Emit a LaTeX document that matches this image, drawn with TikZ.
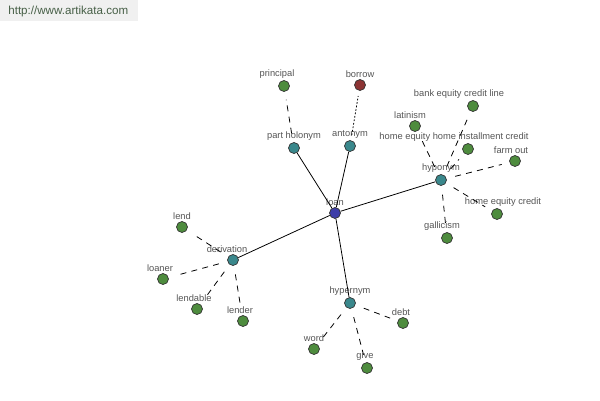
\documentclass[tikz,border=0pt]{standalone}
\usepackage{fontspec}
\setmainfont{Liberation Sans}
\definecolor{leaf}{RGB}{78,140,62}
\definecolor{rel}{RGB}{58,136,140}
\definecolor{root}{RGB}{62,62,168}
\definecolor{anto}{RGB}{140,52,52}
\definecolor{lblgray}{RGB}{85,85,85}
\definecolor{wmark}{RGB}{240,240,240}
\definecolor{wtext}{RGB}{70,95,70}
\tikzset{
  wnode/.style={circle,draw=black!80,line width=0.4pt,inner sep=0pt,minimum size=0.22cm},
  leafnode/.style={wnode,fill=leaf},
  relnode/.style={wnode,fill=rel},
  lbl/.style={font=\fontsize{5.3}{6}\selectfont,text=lblgray,inner sep=0.8pt},
  link/.style={line width=0.45pt},
  sublink/.style={line width=0.45pt,dash pattern=on 3.4pt off 3pt,shorten <=5pt,shorten >=4.5pt},
}
\begin{document}
\begin{tikzpicture}[x=0.02cm,y=-0.02cm]
\useasboundingbox (0,0) rectangle (600,400);
\fill [wmark] (0,0) rectangle (138,21);
\node [font=\fontsize{6.6}{8}\selectfont,text=wtext,anchor=west,inner sep=0pt] (site) at (8,11) {http://www.artikata.com};
% center and relation nodes
\node [wnode,fill=root,label={[lbl]above:loan}] (loan) at (335,213) {};
\node [relnode,label={[lbl]above:part holonym}] (holo) at (294,148) {};
\node [relnode,label={[lbl]above:antonym}] (anton) at (350,146) {};
\node [relnode,label={[lbl]above:hyponym}] (hypo) at (441,180) {};
\node [relnode,label={[lbl,xshift=-0.12cm]above:derivation}] (deriv) at (233,260) {};
\node [relnode,label={[lbl]above:hypernym}] (hyper) at (350,303) {};
% leaves
\node [leafnode,label={[lbl,xshift=-0.14cm]above:principal}] (princ) at (284,86) {};
\node [wnode,fill=anto,label={[lbl]above:borrow}] (borrow) at (360,85) {};
\node [leafnode,label={[lbl,xshift=-0.1cm]above:latinism}] (latin) at (415,126) {};
\node [leafnode,label={[lbl,xshift=-0.28cm]above:bank equity credit line}] (bank) at (473,106) {};
\node [leafnode,label={[lbl,xshift=-0.28cm]above:home equity home installment credit}] (install) at (468,149) {};
\node [leafnode,label={[lbl,xshift=-0.08cm]above:farm out}] (farm) at (515,161) {};
\node [leafnode,label={[lbl,xshift=0.12cm]above:home equity credit}] (homeeq) at (497,214) {};
\node [leafnode,label={[lbl,xshift=-0.1cm]above:gallicism}] (gallic) at (447,238) {};
\node [leafnode,label={[lbl]above:lend}] (lend) at (182,227) {};
\node [leafnode,label={[lbl,xshift=-0.06cm]above:loaner}] (loaner) at (163,279) {};
\node [leafnode,label={[lbl,xshift=-0.06cm]above:lendable}] (lendable) at (197,309) {};
\node [leafnode,label={[lbl,xshift=-0.06cm]above:lender}] (lender) at (243,321) {};
\node [leafnode,label={[lbl,xshift=-0.04cm]above:debt}] (debt) at (403,323) {};
\node [leafnode,label={[lbl]above:word}] (word) at (314,349) {};
\node [leafnode,label={[lbl,xshift=-0.04cm]above:give}] (give) at (367,368) {};
% links
\foreach \r in {holo,anton,hypo,deriv,hyper}
  \draw [link] (loan) -- (\r);
\draw [sublink] (holo) -- (princ);
\draw [link,dash pattern=on 1pt off 1pt,shorten <=3pt,shorten >=3pt] (anton) -- (borrow);
\foreach \l in {latin,bank,install,farm,homeeq,gallic}
  \draw [sublink] (hypo) -- (\l);
\foreach \l in {lend,loaner,lendable,lender}
  \draw [sublink] (deriv) -- (\l);
\foreach \l in {debt,word,give}
  \draw [sublink] (hyper) -- (\l);
\end{tikzpicture}
\end{document}
